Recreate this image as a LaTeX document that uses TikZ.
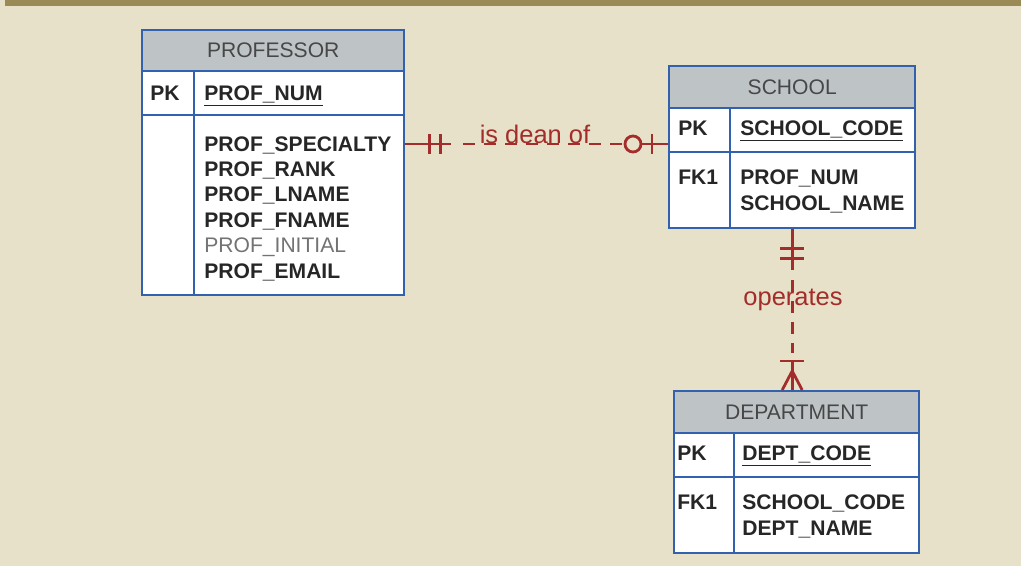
\documentclass[tikz,border=0pt]{standalone}
\usepackage{fontspec}
\setmainfont{Liberation Sans}
\usetikzlibrary{calc}

\definecolor{paper}{RGB}{232,225,201}
\definecolor{topbar}{RGB}{154,139,86}
\definecolor{tblblue}{RGB}{50,98,175}
\definecolor{headgray}{RGB}{190,196,198}
\definecolor{relred}{RGB}{163,45,42}

\tikzset{
  entity/.style={draw=tblblue, line width=1.4pt, fill=white, anchor=north west, inner sep=0pt},
  enthead/.style={draw=tblblue, line width=1.4pt, fill=headgray, anchor=north west, inner sep=0pt,
    text=black!72, font=\fontsize{12}{14}\selectfont},
  tblline/.style={draw=tblblue, line width=1.4pt},
  keytxt/.style={anchor=base west, inner sep=0pt, font=\bfseries\fontsize{12}{14}\selectfont, text=black!85},
  plaintxt/.style={keytxt, font=\fontsize{12}{14}\selectfont, text=black!55},
  rel/.style={draw=relred, line width=1.6pt},
  reldash/.style={rel, dash pattern=on 0.24cm off 0.18cm},
  rellabel/.style={anchor=base, inner sep=0pt, text=relred, font=\fontsize{14.5}{17}\selectfont}
}

\begin{document}
\begin{tikzpicture}[x=0.02cm, y=-0.02cm]
  %background
  \fill[paper] (0,0) rectangle (1021,566);
  \fill[topbar] (5,0) rectangle (1021,6);

  %PROFESSOR
  \node[entity, minimum width=5.24cm, minimum height=5.3cm] (prof) at (141,29) {};
  \node[enthead, minimum width=5.24cm, minimum height=0.82cm] (profhead) at (prof.north west) {PROFESSOR};
  \coordinate (profA) at (141,115);
  \coordinate (profB) at (403,115);
  \coordinate (profC) at (194,70);
  \coordinate (profD) at (194,294);
  \draw[tblline] (profA) -- (profB);
  \draw[tblline] (profC) -- (profD);
  \node[keytxt] (profpk) at (150,100.6) {PK};
  \node[keytxt] (profnum) at (204,100.6) {\underline{PROF\_NUM}};
  \node[keytxt] (profspec) at (204,151) {PROF\_SPECIALTY};
  \node[keytxt] (profrank) at (204,176.4) {PROF\_RANK};
  \node[keytxt] (proflname) at (204,201.8) {PROF\_LNAME};
  \node[keytxt] (proffname) at (204,227.2) {PROF\_FNAME};
  \node[plaintxt] (profinit) at (204,252.6) {PROF\_INITIAL};
  \node[keytxt] (profemail) at (204,278) {PROF\_EMAIL};

  %SCHOOL
  \node[entity, minimum width=4.92cm, minimum height=3.24cm] (school) at (668,65) {};
  \node[enthead, minimum width=4.92cm, minimum height=0.84cm] (schoolhead) at (school.north west) {SCHOOL};
  \coordinate (schA) at (668,152);
  \coordinate (schB) at (914,152);
  \coordinate (schC) at (730,107);
  \coordinate (schD) at (730,227);
  \draw[tblline] (schA) -- (schB);
  \draw[tblline] (schC) -- (schD);
  \node[keytxt] (schpk) at (678,135.6) {PK};
  \node[keytxt] (schcode) at (740,135.6) {\underline{SCHOOL\_CODE}};
  \node[keytxt] (schfk) at (678,184.6) {FK1};
  \node[keytxt] (schprof) at (740,184.6) {PROF\_NUM};
  \node[keytxt] (schname) at (740,210.6) {SCHOOL\_NAME};

  %DEPARTMENT
  \node[entity, minimum width=4.9cm, minimum height=3.24cm] (dept) at (673,390) {};
  \node[enthead, minimum width=4.9cm, minimum height=0.84cm] (depthead) at (dept.north west) {DEPARTMENT};
  \coordinate (depA) at (673,477);
  \coordinate (depB) at (918,477);
  \coordinate (depC) at (734,432);
  \coordinate (depD) at (734,552);
  \draw[tblline] (depA) -- (depB);
  \draw[tblline] (depC) -- (depD);
  \node[keytxt] (deppk) at (677,460.6) {PK};
  \node[keytxt] (depcode) at (742,460.6) {\underline{DEPT\_CODE}};
  \node[keytxt] (depfk) at (677,509.6) {FK1};
  \node[keytxt] (depsch) at (742,509.6) {SCHOOL\_CODE};
  \node[keytxt] (depname) at (742,535.6) {DEPT\_NAME};

  %is dean of (1:1, optional on school)
  \coordinate (dean1) at (prof.east |- 0,144);
  \coordinate (dean2) at (school.west |- dean1);
  \draw[reldash] ($(dean1)+(58,0)$) -- ($(dean2)+(-40,0)$);
  \draw[rel] (dean1) -- ++(46,0);
  \draw[rel] (dean2) -- ++(-26,0);
  \draw[rel] (dean1) ++(24,-10) -- ++(0,20);
  \draw[rel] (dean1) ++(35,-10) -- ++(0,20);
  \draw[rel] (dean2) ++(-16,-10) -- ++(0,20);
  \draw[rel, fill=paper] ($(dean2)+(-35,0)$) circle (0.16cm);
  \node[rellabel] (deanlabel) at (535,143) {is dean of};

  %operates (1:M)
  \coordinate (op1) at (school.south);
  \coordinate (op2) at (op1 |- dept.north);
  \draw[reldash] ($(op1)+(0,51)$) -- ($(op2)+(0,-37)$);
  \draw[rel] (op1) -- ++(0,41);
  \draw[rel] (op2) -- ++(0,-30);
  \draw[rel] (op1) ++(-12,19) -- ++(24,0);
  \draw[rel] (op1) ++(-12,29) -- ++(24,0);
  \draw[rel] (op2) ++(-12,-29) -- ++(24,0);
  \draw[rel] ($(op2)+(0,-19)$) -- ($(op2)+(-10,0)$);
  \draw[rel] ($(op2)+(0,-19)$) -- ($(op2)+(10,0)$);
  \node[rellabel] (oplabel) at (793,305) {operates};
\end{tikzpicture}
\end{document}
